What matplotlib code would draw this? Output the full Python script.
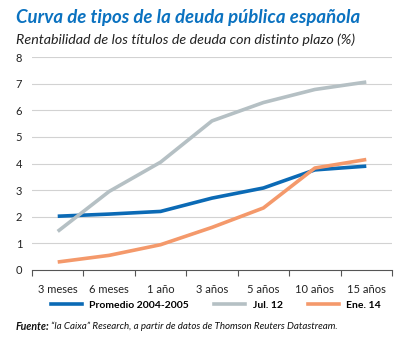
import matplotlib
matplotlib.use("Agg")
import matplotlib.pyplot as plt
from matplotlib.lines import Line2D

categories = ["3 meses", "6 meses", "1 año", "3 años", "5 años", "10 años", "15 años"]
promedio = [2.02, 2.10, 2.20, 2.70, 3.08, 3.76, 3.90]
jul12 = [1.45, 2.95, 4.05, 5.60, 6.29, 6.78, 7.06]
ene14 = [0.30, 0.55, 0.95, 1.60, 2.33, 3.83, 4.15]
series_names = ["Promedio 2004-2005", "Jul. 12", "Ene. 14"]
colors = ["#0b6ab5", "#b5c0c4", "#f4996b"]
yticks = [0, 1, 2, 3, 4, 5, 6, 7, 8]

FONT = "Lato"
W, H = 413, 338
fig = plt.figure(figsize=(W / 100, H / 100), dpi=100)
ax = fig.add_axes([32 / W, 1 - 270 / H, (392 - 32) / W, (270 - 57) / H])

x = list(range(len(categories)))
for vals, c in zip([promedio, jul12, ene14], colors):
    ax.plot(x, vals, color=c, lw=2.6, solid_capstyle="butt", zorder=3)

ax.set_xlim(-0.5, len(categories) - 0.5)
ax.set_ylim(0, 8)
for v in yticks[1:]:
    ax.axhline(v, color="#d2d2d2", lw=0.8, zorder=1)
ax.set_yticks(yticks)
ax.set_yticklabels([str(v) for v in yticks], fontsize=8, family=FONT, color="#222222")
ax.tick_params(axis="y", length=0, pad=7)
ax.set_xticks([i - 0.5 for i in range(len(categories) + 1)], minor=False)
ax.set_xticklabels([])
ax.set_xticks(x, minor=True)
ax.set_xticklabels(categories, minor=True, fontsize=8, family=FONT, color="#222222")
ax.tick_params(axis="x", which="major", length=4, direction="out", color="#555555", width=0.8)
ax.tick_params(axis="x", which="minor", length=0, pad=10)
for s in ["top", "right", "left"]:
    ax.spines[s].set_visible(False)
ax.spines["bottom"].set_color("#555555")
ax.spines["bottom"].set_linewidth(0.8)

fig.text(16 / W, 1 - 18 / H, "Curva de tipos de la deuda pública española", fontsize=13.4,
         fontweight="bold", style="italic", color="#0b72c0", family=FONT, va="center", ha="left")
fig.text(16 / W, 1 - 40 / H, "Rentabilidad de los títulos de deuda con distinto plazo (%)", fontsize=10.3,
         style="italic", color="#222222", family=FONT, va="center", ha="left")

handles = [Line2D([], [], color=c, lw=2.6) for c in colors]
leg = fig.legend(handles, series_names, loc="center", bbox_to_anchor=(216 / W, 1 - 305 / H),
                 ncol=3, frameon=False, handlelength=3.0, columnspacing=2.4, handletextpad=0.7,
                 prop={"family": FONT, "size": 7.5, "weight": "bold"})

fig.text(16 / W, 1 - 326 / H, "Fuente:", fontsize=7.6, fontweight="bold", style="italic",
         family=FONT, va="center", ha="left", color="#111111")
fig.text(51 / W, 1 - 326 / H, "“la Caixa” Research, a partir de datos de Thomson Reuters Datastream.",
         fontsize=7, style="italic", family=FONT, va="center", ha="left", color="#111111")

fig.savefig("out.png", dpi=100)
